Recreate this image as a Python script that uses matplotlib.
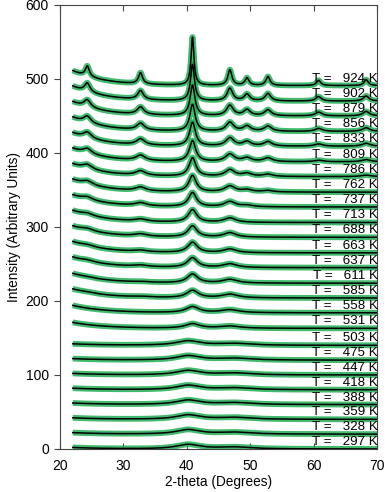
import numpy as np
import matplotlib
matplotlib.use("Agg")
import matplotlib.pyplot as plt

plt.rcParams['font.family'] = ['Liberation Sans', 'DejaVu Sans']

# ---- data ----
temperatures = [297, 328, 359, 388, 418, 447, 475, 503, 531, 558, 585, 611, 637,
                663, 688, 713, 737, 762, 786, 809, 833, 856, 879, 902, 924]
offsets = [0, 20, 40, 60, 80, 100, 120, 140, 163, 184, 204, 224, 245,
           265, 286, 306, 327, 347, 368, 388, 409, 429, 450, 470, 491]
# low-angle background amplitude (decaying from 22 deg)
bg_amp = [2, 2, 2, 2, 2, 2, 2, 2, 8, 10, 12, 13, 14, 15, 15, 16, 16, 17, 17, 18, 18, 19, 19, 20, 20]

# main peak (~40-41 deg)
main_pos = [40.2] * 8 + [40.9] * 17
main_h = [6, 6, 6, 6, 6, 6, 6, 6, 6, 8, 10, 12, 13, 14, 15, 17, 19, 22, 25, 28, 32, 36, 41, 49, 65]
main_w = [4.5] * 8 + [2.8, 2.5, 2.2, 2.0, 1.9, 1.8, 1.7, 1.6, 1.5, 1.4, 1.3, 1.2, 1.1, 1.0, 0.9, 0.75, 0.55]

# second peak (~46.7 deg)
p46_pos = [47.5] * 8 + [46.8] * 17
p46_h = [2.5] * 8 + [3, 4, 5, 5, 5, 5, 6, 6, 7, 8, 9, 10, 11, 12, 14, 17, 21]

# minor peaks: positions and heights per temperature
minor_pos = [24.3, 32.7, 49.5, 52.8, 60.8, 68.3]
h_24 = [0] * 8 + [0, 0, 1, 1, 2, 2, 3, 3, 4, 5, 6, 7, 8, 9, 10, 12, 14]
h_32 = [0] * 8 + [0, 0, 1, 1, 2, 2, 3, 3, 4, 5, 6, 7, 8, 9, 10, 12, 15]
h_49 = [0] * 16 + [2, 3, 4, 5, 6, 7, 8, 9, 10]
h_53 = [0] * 17 + [2, 3, 5, 6, 7, 8, 10, 12]
h_61 = [0] * 19 + [2, 3, 4, 5, 6, 7]
h_68 = [0] * 18 + [2, 3, 4, 5, 6, 7, 8]

two_theta = np.arange(22.0, 70.01, 0.05)


def lor(x, c, h, w):
    return h / (1.0 + ((x - c) / (w / 2.0)) ** 2)


fig = plt.figure(figsize=(3.85, 4.92), dpi=100)
ax = fig.add_axes([0.156, 0.0874, 0.823, 0.9026])

green = '#22ad55'
minor_heights = [h_24, h_32, h_49, h_53, h_61, h_68]
for i, T in enumerate(temperatures):
    y = offsets[i] + bg_amp[i] * np.exp(-(two_theta - 22.0) / 5.0)
    y = y + lor(two_theta, main_pos[i], main_h[i], main_w[i])
    y = y + lor(two_theta, p46_pos[i], p46_h[i], main_w[i] * 1.4)
    for pos, hs in zip(minor_pos, minor_heights):
        if hs[i] > 0:
            y = y + lor(two_theta, pos, hs[i], main_w[i] * 1.4)
    ax.plot(two_theta, y, color=green, lw=4.2, alpha=0.85, solid_capstyle='butt', zorder=2)
    ax.plot(two_theta, y, color='black', lw=1.1, zorder=3)
    ax.text(70.1, offsets[i] + 5.5, f"T =   {T} K", ha='right', va='baseline',
            fontsize=9.6, zorder=4)

ax.set_xlim(20, 70)
ax.set_ylim(0, 600)
ax.set_xticks([20, 30, 40, 50, 60, 70])
ax.set_yticks([0, 100, 200, 300, 400, 500, 600])
ax.tick_params(axis='x', direction='in', top=True, length=4, labelsize=10, pad=7, color='#444')
ax.tick_params(axis='y', direction='out', right=False, length=4, labelsize=10, pad=4, color='#444')
for s in ax.spines.values():
    s.set_color('#444')
    s.set_linewidth(0.8)
ax.set_xlabel('2-theta (Degrees)', fontsize=9.8, labelpad=2)
ax.set_ylabel('Intensity (Arbitrary Units)', fontsize=9.8, labelpad=3)

fig.savefig('out.png', dpi=100)
